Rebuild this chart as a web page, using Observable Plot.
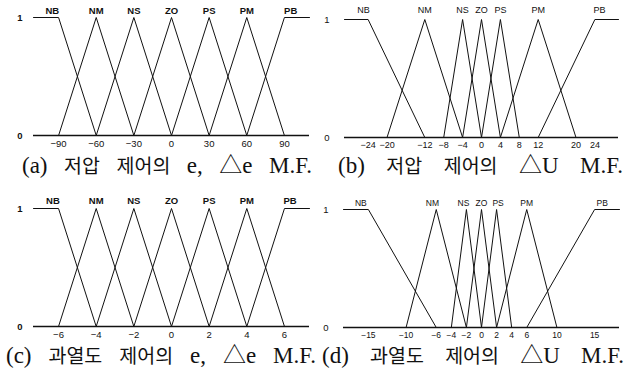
<!DOCTYPE html>
<html>
<head>
<meta charset="utf-8">
<script src="https://cdn.jsdelivr.net/npm/d3@7"></script>
<script src="https://cdn.jsdelivr.net/npm/@observablehq/plot@0.6"></script>
<style>
  html, body { margin: 0; padding: 0; background: #fff; }
  #root { position: relative; width: 632px; height: 380px; overflow: hidden; }
  .panel { position: absolute; }
  #caps { position: absolute; left: 0; top: 0; }
  #caps text { font-family: "Liberation Serif", "Noto Sans CJK KR", serif; font-size: 23px; fill: #111; }
  #caps tspan.ko { font-family: "Noto Sans CJK KR", sans-serif; font-size: 19.5px; }
</style>
</head>
<body>
<div id="root"></div>
<script>
// Membership function names
const mfNames = ["NB", "NM", "NS", "ZO", "PS", "PM", "PB"];

// (a) 저압 제어의 e, Δe  — vertices (x) and membership (mu) of each set
const aX  = [[-110, -90, -60], [-90, -60, -30], [-60, -30, 0], [-30, 0, 30], [0, 30, 60], [30, 60, 90], [60, 90, 110]];
const aMu = [[1, 1, 0], [0, 1, 0], [0, 1, 0], [0, 1, 0], [0, 1, 0], [0, 1, 0], [0, 1, 1]];
const aTicks = [-90, -60, -30, 0, 30, 60, 90];
const aLabelX = [-95, -60, -30, 0, 30, 60, 95];

// (b) 저압 제어의 ΔU
const bX  = [[-29, -24, -12], [-20, -12, -4], [-8, -4, 0], [-4, 0, 4], [0, 4, 8], [4, 12, 20], [12, 24, 29]];
const bMu = [[1, 1, 0], [0, 1, 0], [0, 1, 0], [0, 1, 0], [0, 1, 0], [0, 1, 0], [0, 1, 1]];
const bTicks = [-24, -20, -12, -8, -4, 0, 4, 8, 12, 20, 24];
const bLabelX = [-25, -12, -4, 0, 4, 12, 25];

// (c) 과열도 제어의 e, Δe
const cX  = [[-7.33, -6, -4], [-6, -4, -2], [-4, -2, 0], [-2, 0, 2], [0, 2, 4], [2, 4, 6], [4, 6, 7.33]];
const cMu = [[1, 1, 0], [0, 1, 0], [0, 1, 0], [0, 1, 0], [0, 1, 0], [0, 1, 0], [0, 1, 1]];
const cTicks = [-6, -4, -2, 0, 2, 4, 6];
const cLabelX = [-6.3, -4, -2, 0, 2, 4, 6.3];

// (d) 과열도 제어의 ΔU
const dX  = [[-18.3, -15, -6], [-10, -6, -2], [-4, -2, 0], [-2, 0, 2], [0, 2, 4], [2, 6, 10], [6, 15, 18.3]];
const dMu = [[1, 1, 0], [0, 1, 0], [0, 1, 0], [0, 1, 0], [0, 1, 0], [0, 1, 0], [0, 1, 1]];
const dTicks = [-15, -10, -6, -4, -2, 0, 2, 4, 6, 10, 15];
const dLabelX = [-16, -6.5, -2.4, 0, 2.2, 6, 16];

const captions = [
  "(a) 저압 제어의 e, △e M.F.",
  "(b) 저압 제어의 △U M.F.",
  "(c) 과열도 제어의 e, △e M.F.",
  "(d) 과열도 제어의 △U M.F."
];

function rowsOf(xs, mus) {
  const out = [];
  xs.forEach((xv, i) => xv.forEach((x, j) => out.push({name: mfNames[i], x, mu: mus[i][j]})));
  return out;
}

function panel({xs, mus, ticks, labelX, domain, mL, mR, mT, labelDy, yPad, bold, fs, tPad}) {
  const rows = rowsOf(xs, mus);
  const labels = mfNames.map((n, i) => ({name: n, x: labelX[i]}));
  return Plot.plot({
    width: 316,
    height: mT + 118 + 24,
    marginLeft: mL,
    marginRight: mR,
    marginTop: mT,
    marginBottom: 24,
    style: {background: "transparent", fontFamily: "'Liberation Sans', Arial, sans-serif", fontSize: "9px", color: "#111"},
    x: {domain, label: null},
    y: {domain: [0, 1], label: null},
    marks: [
      Plot.ruleY([0], {stroke: "#111", strokeWidth: 1.6}),
      Plot.line(rows, {x: "x", y: "mu", z: "name", stroke: "#111", strokeWidth: 1}),
      Plot.text(labels, {x: "x", y: () => 1, text: "name", dy: labelDy, lineAnchor: "middle",
        fontWeight: bold ? "bold" : "normal", fontSize: fs}),
      Plot.axisX({ticks, tickSize: 0, tickPadding: tPad, label: null, fontSize: fs}),
      Plot.axisY({ticks: [0, 1], tickSize: 0, tickPadding: yPad, label: null, tickFormat: d3.format("d"),
        fontWeight: bold ? "bold" : "normal", fontSize: 9.5})
    ]
  });
}

const root = document.getElementById("root");
function place(el, left, top) {
  el.classList.add("panel");
  el.style.left = left + "px";
  el.style.top = top + "px";
  root.appendChild(el);
}

place(panel({xs: aX, mus: aMu, ticks: aTicks, labelX: aLabelX, domain: [-110, 110], mL: 33, mR: 7, mT: 17, labelDy: -7, yPad: 11, bold: true, fs: 9.5, tPad: 5}), 0, 0);
place(panel({xs: bX, mus: bMu, ticks: bTicks, labelX: bLabelX, domain: [-29, 29], mL: 28, mR: 14, mT: 19, labelDy: -9, yPad: 15, bold: false, fs: 9, tPad: 4}), 316, 0);
place(panel({xs: cX, mus: cMu, ticks: cTicks, labelX: cLabelX, domain: [-7.33, 7.33], mL: 33, mR: 7, mT: 18, labelDy: -8, yPad: 11, bold: true, fs: 9.5, tPad: 5}), 0, 190);
place(panel({xs: dX, mus: dMu, ticks: dTicks, labelX: dLabelX, domain: [-18.3, 18.3], mL: 27, mR: 13, mT: 19, labelDy: -6, yPad: 15, bold: false, fs: 8.5, tPad: 4}), 316, 190);

// captions: [left, baseline, target width]; extra width goes into the word gaps
const capBox = [[22, 173, 290], [338, 173, 285], [6, 363, 310], [322, 363, 302]];
const svgNS = "http://www.w3.org/2000/svg";
const caps = document.createElementNS(svgNS, "svg");
caps.setAttribute("id", "caps");
caps.setAttribute("width", 632);
caps.setAttribute("height", 380);
root.appendChild(caps);
captions.forEach((t, i) => {
  const el = document.createElementNS(svgNS, "text");
  el.setAttribute("x", capBox[i][0]);
  el.setAttribute("y", capBox[i][1]);
  t.split(/([가-힣]+)/).forEach(part => {
    if (!part) return;
    const ts = document.createElementNS(svgNS, "tspan");
    if (/[가-힣]/.test(part)) ts.setAttribute("class", "ko");
    ts.textContent = part;
    el.appendChild(ts);
  });
  caps.appendChild(el);
  const natural = el.getComputedTextLength();
  const gaps = t.split(" ").length - 1;
  const extra = Math.max(0, (capBox[i][2] - natural) / gaps);
  el.style.wordSpacing = extra + "px";
});
</script>
</body>
</html>
